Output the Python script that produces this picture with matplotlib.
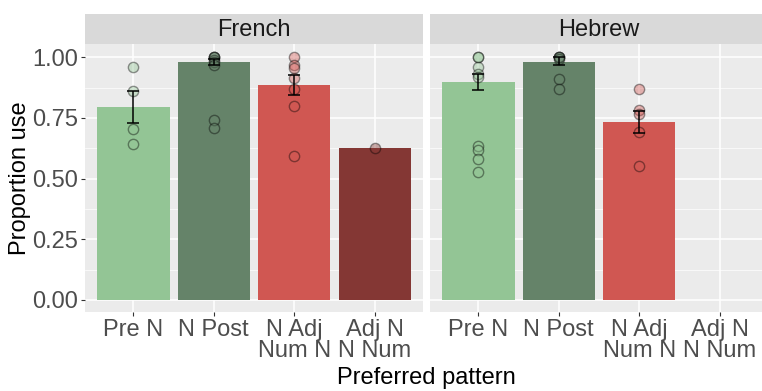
import numpy as np
import matplotlib.pyplot as plt

plt.rcParams['font.family'] = ['Liberation Sans', 'DejaVu Sans']

languages = ["French", "Hebrew"]
patterns = ["Pre N", "N Post", "N Adj\nNum N", "Adj N\nN Num"]
colors = ["#93C595", "#658369", "#D05752", "#843734"]

# mean proportion per pattern (None = no data)
means = {
    "French": [0.797, 0.979, 0.884, 0.625],
    "Hebrew": [0.897, 0.980, 0.735, None],
}
# standard-error bars (low, high)
err_lo = {
    "French": [0.728, 0.970, 0.843, None],
    "Hebrew": [0.864, 0.970, 0.690, None],
}
err_hi = {
    "French": [0.860, 0.995, 0.929, None],
    "Hebrew": [0.930, 1.000, 0.780, None],
}
# individual participant proportions
points = {
    "French": [
        [0.96, 0.86, 0.706, 0.643],
        [1.0, 1.0, 1.0, 0.99, 0.98, 0.967, 0.743, 0.71],
        [1.0, 0.967, 0.956, 0.915, 0.87, 0.80, 0.593],
        [0.627],
    ],
    "Hebrew": [
        [1.0, 1.0, 0.96, 0.93, 0.92, 0.634, 0.617, 0.579, 0.528],
        [1.0, 1.0, 1.0, 0.994, 0.912, 0.871],
        [0.868, 0.782, 0.768, 0.693, 0.551],
        [],
    ],
}

W, H = 762, 391
FS = 17
fig = plt.figure(figsize=(W / 100, H / 100), dpi=100)

panel_w = 338 / W
panel_b = 1 - 312 / H
panel_h = (312 - 44) / H
strip_h = 30 / H
lefts = [85 / W, 430 / W]

x = np.arange(1, 5)
for i, lang in enumerate(languages):
    ax = fig.add_axes([lefts[i], panel_b, panel_w, panel_h])
    ax.set_facecolor("#EBEBEB")
    ax.set_xlim(0.4, 4.6)
    ax.set_ylim(-0.05, 1.055)
    ax.set_yticks([0, 0.25, 0.5, 0.75, 1.0])
    ax.set_yticks([0.125, 0.375, 0.625, 0.875], minor=True)
    ax.set_xticks(x)
    ax.grid(True, which="major", color="white", linewidth=1.1)
    ax.grid(True, which="minor", axis="y", color="white", linewidth=0.5)
    ax.set_axisbelow(True)
    for s in ax.spines.values():
        s.set_visible(False)
    ax.tick_params(axis="both", which="major", length=3, color="#333333",
                   labelsize=FS, labelcolor="#4D4D4D", pad=2)
    ax.tick_params(axis="y", which="minor", length=0)

    for j in range(4):
        m = means[lang][j]
        if m is None:
            continue
        ax.bar(x[j], m, width=0.9, color=colors[j], zorder=2)
        pts = points[lang][j]
        ax.scatter([x[j]] * len(pts), pts, s=55, facecolor=colors[j],
                   edgecolor="black", alpha=0.4, linewidth=1.0, zorder=3)
        if err_lo[lang][j] is not None:
            ax.errorbar(x[j], m, yerr=[[m - err_lo[lang][j]], [err_hi[lang][j] - m]],
                        color="black", capsize=4, elinewidth=1.1, capthick=1.1, zorder=4)

    ax.set_xticklabels(patterns, linespacing=0.95)
    if i == 0:
        ax.set_yticklabels(["0.00", "0.25", "0.50", "0.75", "1.00"])
        ax.set_ylabel("Proportion use", fontsize=FS, color="black", labelpad=1)
    else:
        ax.tick_params(axis="y", labelleft=False, length=0)

    sax = fig.add_axes([lefts[i], panel_b + panel_h, panel_w, strip_h])
    sax.set_facecolor("#D9D9D9")
    sax.set_xticks([])
    sax.set_yticks([])
    for s in sax.spines.values():
        s.set_visible(False)
    sax.text(0.5, 0.45, lang, ha="center", va="center", fontsize=FS,
             color="#1A1A1A", transform=sax.transAxes)

fig.text((85 + 768) / 2 / W, 2 / H, "Preferred pattern", ha="center", va="bottom",
         fontsize=FS)

fig.savefig("out.png", dpi=100)
